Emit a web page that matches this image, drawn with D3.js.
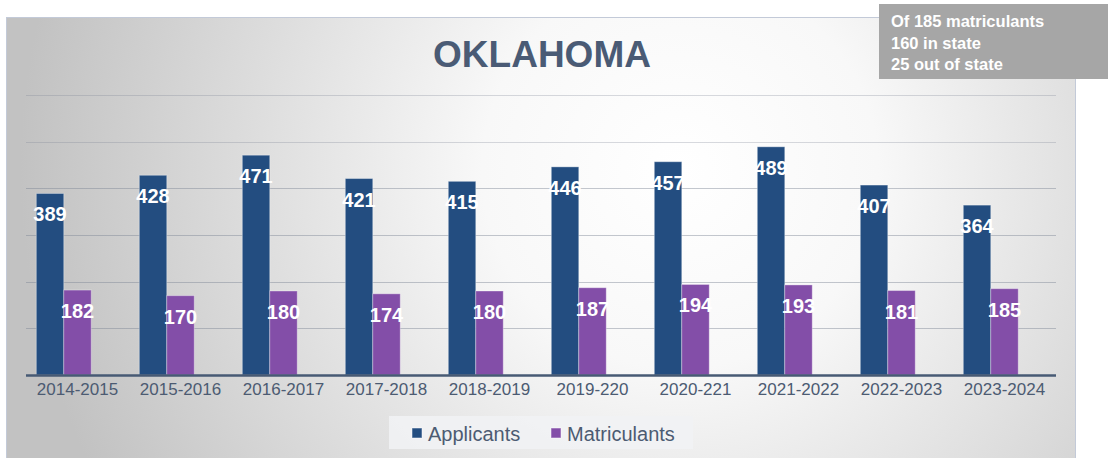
<!DOCTYPE html>
<html>
<head>
<meta charset="utf-8">
<script src="https://cdn.jsdelivr.net/npm/d3@7"></script>
<style>
  html, body { margin: 0; padding: 0; background: #ffffff; }
  svg { display: block; font-family: "Liberation Sans", Arial, sans-serif; }
</style>
</head>
<body>
<div id="chart"></div>
<script>
const categories = ["2014-2015", "2015-2016", "2016-2017", "2017-2018", "2018-2019",
                    "2019-220", "2020-221", "2021-2022", "2022-2023", "2023-2024"];
const applicants = [389, 428, 471, 421, 415, 446, 457, 489, 407, 364];
const matriculants = [182, 170, 180, 174, 180, 187, 194, 193, 181, 185];
const seriesNames = ["Applicants", "Matriculants"];
const seriesColors = ["#234d80", "#834ea8"];
const yTicks = [0, 100, 200, 300, 400, 500, 600];
const noteLines = ["Of 185 matriculants", "160 in state", "25 out of state"];
const title = "OKLAHOMA";

const W = 1108, H = 458;
const plot = { left: 26, right: 1056, top: 95, bottom: 375 };

const svg = d3.select("#chart").append("svg")
  .attr("width", W)
  .attr("height", H);

const defs = svg.append("defs");
const grad = defs.append("radialGradient")
  .attr("id", "bg")
  .attr("gradientUnits", "userSpaceOnUse")
  .attr("cx", 680).attr("cy", 170).attr("r", 660);
grad.append("stop").attr("offset", "0").attr("stop-color", "#ffffff");
grad.append("stop").attr("offset", "0.3").attr("stop-color", "#f8f8f8");
grad.append("stop").attr("offset", "1").attr("stop-color", "#c2c2c2");

// chart frame
svg.append("rect")
  .attr("x", 6.5).attr("y", 17.5)
  .attr("width", 1069).attr("height", 445)
  .attr("fill", "url(#bg)")
  .attr("stroke", "#c3cad8")
  .attr("stroke-width", 1);

const x = d3.scaleBand()
  .domain(categories)
  .range([plot.left, plot.right])
  .paddingInner(0.2)
  .paddingOuter(0.1);

// third slot left empty, like the hidden series in the original
const xInner = d3.scaleBand()
  .domain([...seriesNames, "_empty"])
  .range([0, x.bandwidth()]);

const y = d3.scaleLinear()
  .domain([0, 600])
  .range([plot.bottom, plot.top]);

// gridlines
svg.append("g")
  .selectAll("line")
  .data(yTicks.slice(1))
  .enter()
  .append("line")
  .attr("x1", plot.left)
  .attr("x2", plot.right)
  .attr("y1", d => Math.round(y(d)) + 0.5)
  .attr("y2", d => Math.round(y(d)) + 0.5)
  .attr("stroke", "#7d8694")
  .attr("stroke-opacity", d => d >= 500 ? 0.3 : 0.45)
  .attr("stroke-width", 1);

const rows = categories.map((c, i) => ({
  cat: c,
  values: [applicants[i], matriculants[i]]
}));

const groups = svg.append("g")
  .selectAll("g")
  .data(rows)
  .enter()
  .append("g")
  .attr("transform", d => `translate(${x(d.cat)},0)`);

groups.selectAll("rect")
  .data(d => d.values.map((v, k) => ({ key: seriesNames[k], value: v, k: k })))
  .enter()
  .append("rect")
  .attr("x", d => xInner(d.key))
  .attr("y", d => y(d.value))
  .attr("width", xInner.bandwidth())
  .attr("height", d => plot.bottom - y(d.value))
  .attr("fill", d => seriesColors[d.k])
  .attr("stroke", "rgba(255,255,255,0.35)")
  .attr("stroke-width", 1);

groups.selectAll("text")
  .data(d => d.values.map((v, k) => ({ key: seriesNames[k], value: v })))
  .enter()
  .append("text")
  .attr("x", d => xInner(d.key) + xInner.bandwidth() / 2)
  .attr("y", d => y(d.value) + 28)
  .attr("text-anchor", "middle")
  .style("font-size", "20px")
  .style("font-weight", "bold")
  .style("fill", "#ffffff")
  .text(d => d.value);

// baseline
svg.append("line")
  .attr("x1", plot.left).attr("x2", plot.right)
  .attr("y1", plot.bottom + 0.5).attr("y2", plot.bottom + 0.5)
  .attr("stroke", "#475a74")
  .attr("stroke-width", 2.5);

// x axis labels
const xAxis = svg.append("g")
  .attr("transform", `translate(0,${plot.bottom})`)
  .call(d3.axisBottom(x).tickSize(0).tickPadding(8));
xAxis.select(".domain").remove();
xAxis.selectAll("text")
  .style("font-family", "'Liberation Sans', Arial, sans-serif")
  .style("font-size", "17px")
  .style("fill", "#4c5b72");

// title
svg.append("text")
  .attr("x", 542)
  .attr("y", 67)
  .attr("text-anchor", "middle")
  .style("font-size", "37px")
  .style("font-weight", "bold")
  .style("fill", "#4a5b75")
  .text(title);

// legend
const legend = svg.append("g");
legend.append("rect")
  .attr("x", 389).attr("y", 416)
  .attr("width", 304).attr("height", 33)
  .attr("fill", "#f1f2f4")
  .attr("fill-opacity", 0.9);

const legendX = [412, 551];
const legendItems = legend.selectAll("g")
  .data(seriesNames)
  .enter()
  .append("g")
  .attr("transform", (d, i) => `translate(${legendX[i]},0)`);

legendItems.append("rect")
  .attr("x", 0).attr("y", 428)
  .attr("width", 10).attr("height", 10)
  .attr("fill", (d, i) => seriesColors[i])
  .attr("stroke", "rgba(255,255,255,0.5)");

legendItems.append("text")
  .attr("x", 16).attr("y", 441)
  .style("font-size", "20px")
  .style("fill", "#4c5b72")
  .text(d => d);

// note box
const note = svg.append("g");
note.append("rect")
  .attr("x", 879).attr("y", 4)
  .attr("width", 229).attr("height", 75)
  .attr("fill", "#a6a6a6");
note.selectAll("text")
  .data(noteLines)
  .enter()
  .append("text")
  .attr("x", 891)
  .attr("y", (d, i) => 27 + i * 21.5)
  .style("font-size", "16.5px")
  .style("font-weight", "bold")
  .style("fill", "#ffffff")
  .text(d => d);
</script>
</body>
</html>
